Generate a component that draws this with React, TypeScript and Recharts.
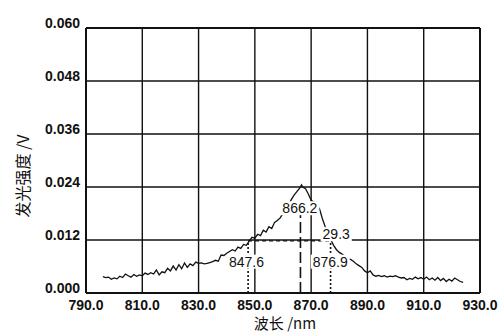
import {
  LineChart,
  Line,
  XAxis,
  YAxis,
  CartesianGrid,
  ReferenceLine,
  ReferenceDot,
} from "recharts";

const wavelengths = [
  796, 797, 798, 799, 800, 801, 802, 803, 804, 805, 806, 807, 808, 809, 810,
  811, 812, 813, 814, 815, 816, 817, 818, 819, 820, 821, 822, 823, 824, 825,
  826, 827, 828, 829, 830, 831, 832, 833, 834, 835, 836, 837, 838, 839, 840,
  841, 842, 843, 844, 845, 846, 847, 848, 849, 850, 851, 852, 853, 854, 855,
  856, 857, 858, 859, 860, 861, 862, 863, 864, 865, 866, 866.6, 867, 868, 869,
  870, 871, 872, 873, 874, 875, 876, 877, 878, 879, 880, 881, 882, 883, 884,
  885, 886, 887, 888, 889, 890, 891, 892, 893, 894, 895, 896, 897, 898, 899,
  900, 901, 902, 903, 904, 905, 906, 907, 908, 909, 910, 911, 912, 913, 914,
  915, 916, 917, 918, 919, 920, 921, 922, 923, 924,
];

const intensity = [
  0.0037, 0.0035, 0.0036, 0.0031, 0.0034, 0.0032, 0.0038, 0.0035, 0.0043, 0.0039,
  0.0036, 0.0042, 0.0038, 0.0041, 0.0039, 0.0045, 0.0042, 0.0046, 0.0043, 0.0052,
  0.0041, 0.0048, 0.0046, 0.0056, 0.005, 0.0061, 0.0052, 0.0064, 0.0055, 0.0068,
  0.0058, 0.0066, 0.0062, 0.007, 0.0067, 0.0068, 0.0066, 0.0067, 0.0069, 0.0071,
  0.0074, 0.0072, 0.0086, 0.0085, 0.009, 0.0094, 0.0098, 0.0095, 0.0104, 0.0101,
  0.011, 0.0108, 0.0118, 0.0126, 0.0124, 0.0133, 0.013, 0.0142, 0.0138, 0.015,
  0.0146, 0.016, 0.0164, 0.017, 0.018, 0.0188, 0.02, 0.0212, 0.0222, 0.023,
  0.0238, 0.0245, 0.024, 0.0236, 0.0224, 0.021, 0.0206, 0.02, 0.019, 0.0168,
  0.015, 0.0135, 0.012, 0.0108, 0.0098, 0.0092, 0.0088, 0.0084, 0.0078, 0.0076,
  0.0072, 0.0066, 0.0062, 0.0058, 0.005, 0.0046, 0.005, 0.0041, 0.0038, 0.004,
  0.0037, 0.0039, 0.0036, 0.0038, 0.0037, 0.0039, 0.0036, 0.0034, 0.0035, 0.003,
  0.0033, 0.0031, 0.0036, 0.0032, 0.0035, 0.0031, 0.0036, 0.003, 0.0034, 0.0029,
  0.0035, 0.0028, 0.0033, 0.0026, 0.0031, 0.0027, 0.0034, 0.003, 0.0026, 0.0024,
];

const xTicks = [790, 810, 830, 850, 870, 890, 910, 930];
const yTicks = [0, 0.012, 0.024, 0.036, 0.048, 0.06];

// half-width markers: left edge, peak, right edge
const halfLeft = 847.6;
const peak = 866.2;
const halfRight = 876.9;
const halfLevel = 0.0118;
const fwhm = "29.3";

// where the annotation texts sit (data units)
const notes = [
  { x: 866.0, y: 0.0192, text: "866.2" },
  { x: 878.9, y: 0.0133, text: fwhm },
  { x: 847.0, y: 0.0071, text: "847.6" },
  { x: 876.8, y: 0.0071, text: "876.9" },
];

const data = wavelengths.map((w, i) => ({ w, v: intensity[i] }));

const tickFont = "'Liberation Sans', Arial, sans-serif";
const cjkFont = "'Noto Sans CJK SC', 'Liberation Sans', sans-serif";

const YTick = (props: any) => (
  <text
    x={props.x - 4}
    y={props.y}
    textAnchor="end"
    fontFamily={tickFont}
    fontSize={14}
    fontWeight="bold"
    fill="#111"
  >
    {Number(props.payload.value).toFixed(3)}
  </text>
);

const XTick = (props: any) => (
  <text
    x={props.x}
    y={props.y + 15}
    textAnchor="middle"
    fontFamily={tickFont}
    fontSize={14}
    fontWeight="bold"
    fill="#111"
  >
    {Number(props.payload.value).toFixed(1)}
  </text>
);

const YTitle = () => (
  <text
    x={22}
    y={176}
    transform="rotate(-90 22 176)"
    textAnchor="middle"
    dominantBaseline="central"
    fontFamily={cjkFont}
    fontSize={16}
    fill="#111"
  >
    发光强度 /V
  </text>
);

const XTitle = () => (
  <text
    x={285}
    y={329}
    textAnchor="middle"
    fontFamily={cjkFont}
    fontSize={15}
    fill="#111"
  >
    波长 /nm
  </text>
);

const noteShape = (text: string) => (props: any) => {
  const w = text.length * 7.8;
  return (
    <g>
      <rect x={props.cx - w / 2} y={props.cy - 7} width={w} height={14} fill="#fff" />
      <text
        x={props.cx}
        y={props.cy + 5}
        textAnchor="middle"
        fontFamily={tickFont}
        fontSize={14}
        fill="#111"
      >
        {text}
      </text>
    </g>
  );
};

export default function App() {
  return (
    <div style={{ position: "absolute", left: 0, top: 0, background: "#fff" }}>
      <LineChart
        width={498}
        height={336}
        data={data}
        margin={{ top: 28, right: 18, bottom: 13, left: 26 }}
      >
        <CartesianGrid stroke="#111" strokeWidth={1.4} />
        <XAxis
          dataKey="w"
          type="number"
          domain={[790, 930]}
          ticks={xTicks}
          height={30}
          tickSize={0}
          tick={<XTick />}
          axisLine={{ stroke: "#111", strokeWidth: 2 }}
          label={<XTitle />}
        />
        <YAxis
          type="number"
          domain={[0, 0.06]}
          ticks={yTicks}
          width={60}
          tickSize={0}
          tick={<YTick />}
          axisLine={{ stroke: "#111", strokeWidth: 2 }}
          label={<YTitle />}
        />
        <ReferenceLine
          segment={[{ x: 930, y: 0 }, { x: 930, y: 0.06 }]}
          stroke="#111"
          strokeWidth={2}
        />
        <ReferenceLine
          segment={[{ x: 790, y: 0.06 }, { x: 930, y: 0.06 }]}
          stroke="#111"
          strokeWidth={2}
        />
        <Line
          dataKey="v"
          type="linear"
          stroke="#111"
          strokeWidth={1.3}
          dot={false}
          isAnimationActive={false}
        />
        <ReferenceLine
          segment={[{ x: halfLeft, y: 0 }, { x: halfLeft, y: halfLevel }]}
          stroke="#111"
          strokeWidth={1.6}
          strokeDasharray="2 2"
        />
        <ReferenceLine
          segment={[{ x: halfRight, y: 0 }, { x: halfRight, y: halfLevel }]}
          stroke="#111"
          strokeWidth={1.6}
          strokeDasharray="2 2"
        />
        <ReferenceLine
          segment={[{ x: halfLeft, y: halfLevel }, { x: halfRight, y: halfLevel }]}
          stroke="#111"
          strokeWidth={1.3}
          strokeDasharray="4 3"
        />
        <ReferenceLine
          segment={[{ x: peak, y: 0 }, { x: peak, y: 0.019 }]}
          stroke="#111"
          strokeWidth={1.6}
          strokeDasharray="11 4"
        />
        {notes.map((n) => (
          <ReferenceDot
            key={n.text}
            x={n.x}
            y={n.y}
            r={0}
            shape={noteShape(n.text)}
          />
        ))}
      </LineChart>
    </div>
  );
}
